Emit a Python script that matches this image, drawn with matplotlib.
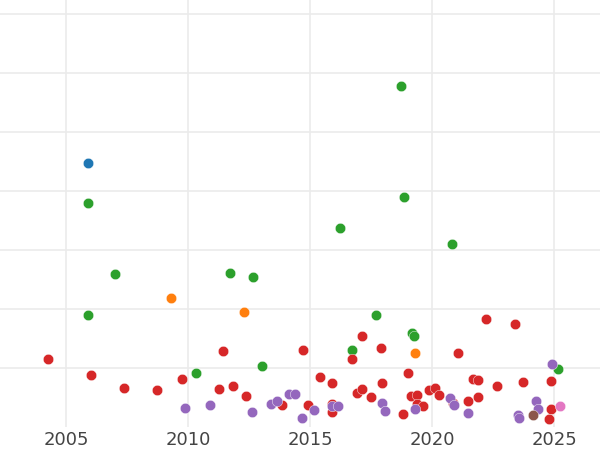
"""Scatter by year, coloured by group (tab10)"""

import matplotlib
matplotlib.use("Agg")
import matplotlib.pyplot as plt

# Data: (year, value) per group
blue_x = [2005.92]
blue_y = [4.48]

orange_x = [2009.30, 2012.31, 2019.31]
orange_y = [2.19, 1.95, 1.26]

green_x = [2018.73, 2005.92, 2018.87, 2016.22, 2020.82, 2007.02, 2011.72, 2012.65,
           2005.91, 2017.70, 2019.17, 2019.27, 2016.71, 2010.31, 2013.03, 2025.16]
green_y = [5.79, 3.79, 3.90, 3.38, 3.11, 2.60, 2.62, 2.54,
           1.90, 1.90, 1.59, 1.55, 1.31, 0.92, 1.03, 0.98]

red_x = [2004.27, 2006.04, 2007.39, 2008.72, 2009.74, 2011.45, 2011.28, 2011.86,
         2012.36, 2014.70, 2013.84, 2015.39, 2014.91, 2015.90, 2015.90, 2015.90,
         2016.72, 2017.15, 2016.91, 2017.14, 2017.49, 2017.91, 2017.94, 2018.83,
         2019.02, 2019.14, 2019.38, 2019.39, 2019.62, 2019.89, 2020.12, 2020.30,
         2021.08, 2020.85, 2021.49, 2021.67, 2021.89, 2021.89, 2022.20, 2022.64,
         2023.40, 2023.72, 2024.89, 2024.86, 2024.81]
red_y = [1.15, 0.88, 0.67, 0.63, 0.82, 1.29, 0.64, 0.70,
         0.53, 1.31, 0.37, 0.85, 0.38, 0.75, 0.39, 0.25,
         1.16, 1.54, 0.58, 0.64, 0.51, 1.34, 0.75, 0.22,
         0.92, 0.52, 0.55, 0.39, 0.36, 0.62, 0.67, 0.54,
         1.26, 0.41, 0.44, 0.82, 0.80, 0.51, 1.84, 0.69,
         1.75, 0.76, 0.78, 0.30, 0.13]

purple_x = [2009.89, 2010.89, 2012.61, 2013.40, 2013.65, 2014.15, 2014.40, 2014.67,
            2015.18, 2015.91, 2016.16, 2017.94, 2018.07, 2019.30, 2020.74, 2020.90,
            2021.49, 2023.51, 2023.57, 2024.26, 2024.32, 2024.91]
purple_y = [0.33, 0.38, 0.25, 0.39, 0.44, 0.56, 0.56, 0.16,
            0.29, 0.36, 0.36, 0.40, 0.27, 0.31, 0.50, 0.37,
            0.24, 0.21, 0.16, 0.45, 0.30, 1.07]

brown_x = [2024.14]
brown_y = [0.20]

pink_x = [2025.25]
pink_y = [0.36]

groups = [
    (blue_x, blue_y, "#1f77b4"),
    (orange_x, orange_y, "#ff7f0e"),
    (green_x, green_y, "#2ca02c"),
    (red_x, red_y, "#d62728"),
    (purple_x, purple_y, "#9467bd"),
    (brown_x, brown_y, "#8c564b"),
    (pink_x, pink_y, "#e377c2"),
]

fig = plt.figure(figsize=(6, 4.5), dpi=100)
ax = fig.add_axes([0, 0.051, 1, 0.949])

for xs, ys, color in groups:
    ax.scatter(xs, ys, s=56, color=color, edgecolor="white", linewidth=0.3, zorder=3)

ax.set_xlim(2002.3, 2026.88)
ax.set_ylim(0, 7.24)
ax.set_xticks([2005, 2010, 2015, 2020, 2025])
ax.set_yticks([1, 2, 3, 4, 5, 6, 7])
ax.set_yticklabels([])

# сетка как в seaborn whitegrid, без рамки
ax.grid(True, color="#ebebeb", linewidth=1.2, zorder=0)
ax.set_axisbelow(True)
for spine in ax.spines.values():
    spine.set_visible(False)

ax.tick_params(axis="both", length=0)
ax.tick_params(axis="x", labelsize=13, labelcolor="#444444", pad=3)

fig.savefig("out.png", dpi=100)
plt.close(fig)
